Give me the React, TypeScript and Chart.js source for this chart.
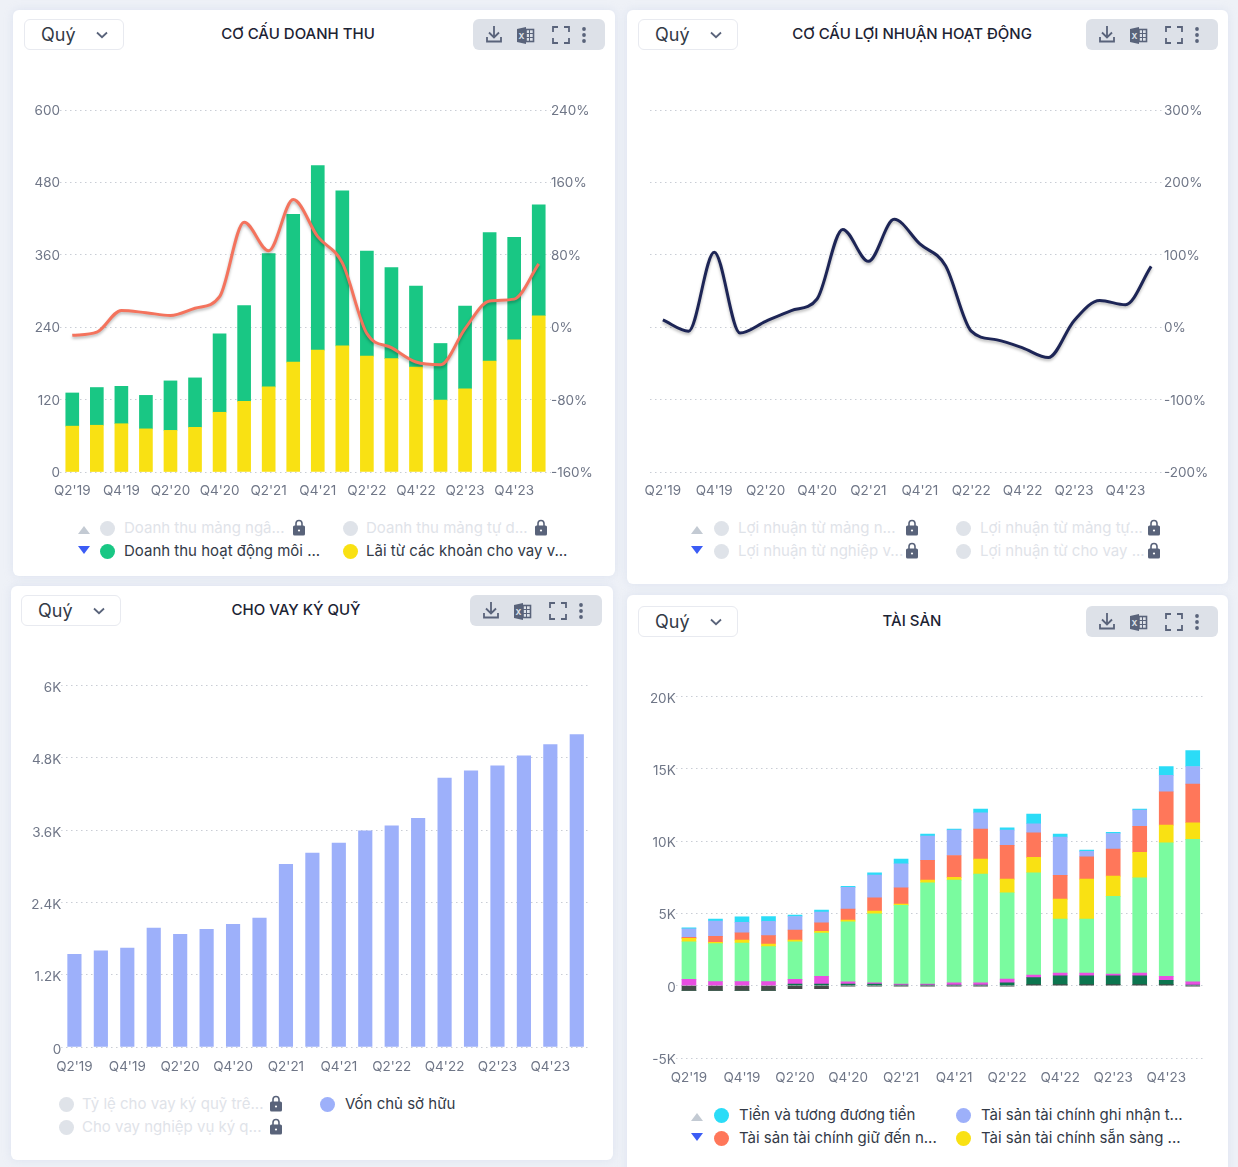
import React, { useEffect, useRef } from "react";
import Chart from "chart.js/auto";

const quarters = ["Q2'19","Q3'19","Q4'19","Q1'20","Q2'20","Q3'20","Q4'20","Q1'21","Q2'21","Q3'21","Q4'21","Q1'22","Q2'22","Q3'22","Q4'22","Q1'23","Q2'23","Q3'23","Q4'23","Q1'24"];

// Revenue structure
const revenueLendingYellow = [76,77.5,80,71.5,69,74,99,117,141,182,202,209,192,188,174,119,138,184,219,259];
const revenueEnvGreen = [55,62.5,62,55.5,82,82,130,159,221,245,306,257,174,151,134,94,137,213,170,184];
const revenueGrowthLine = [-9,-5.5,18.5,16,13,21,33.7,116,84.5,141,100,71,-7,-22.6,-38.5,-41.5,-1.5,29,31,70];

// Operating profit structure
const profitGrowthLine = [10,-5.5,103.5,-8,8,23,39,135,91,149,115,85,-5.5,-17.5,-28.5,-42,9,37,31,84];

// Margin lending
const equityBars = [1537,1598,1642,1974,1869,1952,2035,2140,3030,3218,3384,3589,3672,3794,4463,4584,4667,4833,5021,5187];

// Assets
const assetOther = [-320,-320,-320,-320,-200,-200,-30,-40,-40,-40,-40,-40,-40,70,70,70,70,70,70,-40];
const assetDarkGreen = [0,0,0,0,115,115,115,115,46,46,46,46,207,483,621,621,621,621,299,46];
const assetMagenta = [440,280,280,280,322,530,160,92,70,70,160,160,253,184,184,184,115,184,276,230];
const assetLoans = [2600,2630,2670,2420,2600,2995,4147,4770,5437,7004,7096,7510,5967,7073,3732,3732,5368,6590,9240,9838];
const assetAvailable = [230,90,207,184,115,115,115,184,92,184,184,1037,945,1060,1382,2765,1405,1751,1221,1152];
const assetHeldToMaturity = [70,415,507,576,690,600,760,920,1130,1360,1520,2074,2327,1705,1636,1544,1866,1797,2304,2673];
const assetFvtpl = [600,1060,714,990,945,737,1500,1567,1660,1680,1750,1130,1060,622,2650,369,1083,1130,1130,1221];
const assetCash = [70,140,390,322,92,138,70,160,322,138,70,253,160,668,207,92,70,70,622,1106];

const INK = "#333a47";
const MUTED = "#6f7687";
const OFF = "#dfe3e9";
const ICON = "#59637a";

const lineShadow = {
  id: "lineShadow",
  beforeDatasetDraw(chart: any, args: any) {
    if (chart.data.datasets[args.index].type === "line" || chart.config.type === "line") {
      const c = chart.ctx;
      c.save();
      c.shadowColor = "rgba(0,0,0,0.28)";
      c.shadowBlur = 3;
      c.shadowOffsetY = 2;
    }
  },
  afterDatasetDraw(chart: any, args: any) {
    if (chart.data.datasets[args.index].type === "line" || chart.config.type === "line") chart.ctx.restore();
  },
};

const tickFont = { family: "Inter", size: 13.5 };

function xAxis(height: number, padding: number) {
  return {
    offset: true,
    grid: { display: false },
    border: { display: false },
    afterFit: (s: any) => { s.height = height; },
    ticks: {
      color: MUTED, font: tickFont, padding, maxRotation: 0, minRotation: 0, autoSkip: false,
      callback(this: any, v: any, i: number) { return i % 2 === 0 ? quarters[i] : ""; },
    },
  };
}

function yAxis(o: any) {
  return {
    position: o.position, min: o.min, max: o.max,
    afterFit: (s: any) => { s.width = o.width; },
    grid: { display: o.grid, color: "#c9cdd5", lineWidth: 1, drawTicks: false },
    border: { display: false, dash: [1.5, 3.5] },
    ticks: {
      stepSize: o.step, color: MUTED, font: tickFont, padding: 0, labelOffset: o.labelOffset,
      callback: o.format,
      showLabelBackdrop: o.position === "left",
      backdropColor: "#ffffff",
      backdropPadding: { top: 0, bottom: 0, left: 0, right: 4 },
    },
  };
}

const pct = (v: any) => `${v}%`;
const kilo = (v: any) => (v === 0 ? "0" : `${v / 1000}K`);

function baseOptions(scales: any, padding: any) {
  return {
    responsive: false, animation: false, maintainAspectRatio: false,
    layout: { padding },
    plugins: { legend: { display: false }, tooltip: { enabled: false } },
    scales,
  };
}

function bar(data: number[], color: string, thickness: number, extra: any = {}) {
  return { type: "bar", data, backgroundColor: color, barThickness: thickness, borderWidth: 0, ...extra };
}

const charts: any = {
  revenue: {
    box: { x: 14, y: 70, w: 600, h: 440 },
    config: {
      data: {
        labels: quarters,
        datasets: [
          { type: "line", data: revenueGrowthLine, yAxisID: "y1", borderColor: "#f4735d", borderWidth: 3, pointRadius: 0, cubicInterpolationMode: "monotone", order: 0 },
          bar(revenueLendingYellow, "#f9e113", 13, { yAxisID: "y", stack: "a", order: 1 }),
          bar(revenueEnvGreen, "#19c784", 13, { yAxisID: "y", stack: "a", order: 1 }),
        ],
      },
      options: baseOptions({
        x: { ...xAxis(38, 3), stacked: true },
        y: { ...yAxis({ position: "left", min: 0, max: 600, step: 120, width: 46, grid: true, labelOffset: 1 }), stacked: true },
        y1: yAxis({ position: "right", min: -160, max: 240, step: 80, width: 63, grid: false, format: pct, labelOffset: 1 }),
      }, { top: 40 }),
      plugins: [lineShadow],
    },
  },
  profit: {
    box: { x: 628, y: 70, w: 600, h: 440 },
    config: {
      type: "line",
      data: {
        labels: quarters,
        datasets: [{ data: profitGrowthLine, borderColor: "#1d2556", borderWidth: 3, pointRadius: 0, cubicInterpolationMode: "monotone" }],
      },
      options: baseOptions({
        x: xAxis(38, 3),
        y: yAxis({ position: "right", min: -200, max: 300, step: 100, width: 64, grid: true, format: pct, labelOffset: 1 }),
      }, { top: 40, left: 22 }),
      plugins: [lineShadow],
    },
  },
  margin: {
    box: { x: 12, y: 650, w: 600, h: 435 },
    config: {
      type: "bar",
      data: { labels: quarters, datasets: [bar(equityBars, "#9db0fa", 13.5)] },
      options: baseOptions({
        x: xAxis(38, 4),
        y: yAxis({ position: "left", min: 0, max: 6000, step: 1200, width: 49.2, grid: true, format: kilo, labelOffset: 2.5 }),
      }, { top: 35.5, right: 22 }),
    },
  },
  assets: {
    box: { x: 628, y: 660, w: 600, h: 436 },
    config: {
      type: "bar",
      data: {
        labels: quarters,
        datasets: [
          bar(assetOther, "#454c48", 14),
          bar(assetDarkGreen, "#0c754f", 14),
          bar(assetMagenta, "#e94fe1", 14),
          bar(assetLoans, "#7afb9f", 14),
          bar(assetAvailable, "#f9e113", 14),
          bar(assetHeldToMaturity, "#ff775a", 14),
          bar(assetFvtpl, "#9db0fa", 14),
          bar(assetCash, "#2bdcf7", 14),
        ],
      },
      options: baseOptions({
        x: { ...xAxis(38, 4), stacked: true },
        y: { ...yAxis({ position: "left", min: -5000, max: 20000, step: 5000, width: 47.7, grid: true, format: kilo, labelOffset: 2 }), stacked: true },
      }, { top: 36.5, right: 22 }),
    },
  },
};

function ChartCanvas({ name }: { name: string }) {
  const ref = useRef<HTMLCanvasElement | null>(null);
  const { box, config } = charts[name];
  useEffect(() => {
    const chart = new Chart(ref.current as any, config);
    return () => chart.destroy();
  }, []);
  return <canvas ref={ref} width={box.w} height={box.h} style={{ position: "absolute", left: box.x, top: box.y, width: box.w, height: box.h }} />;
}

const abs = (left: number, top: number, extra: any = {}) => ({ position: "absolute" as const, left, top, ...extra });

function Card({ x, y, w, h }: any) {
  return <div style={abs(x, y, { width: w, height: h, background: "#fff", borderRadius: 6, boxShadow: "0 0 8px rgba(190,200,225,0.35)" })} />;
}

function Select({ x, y }: any) {
  return (
    <div style={abs(x, y, { width: 98, height: 29, border: "1px solid #e8eaf0", borderRadius: 6, background: "#fff" })}>
      <span style={abs(16, 2.5, { font: "400 18px Inter", color: INK, lineHeight: "24px" })}>Quý</span>
      <svg width="12" height="8" viewBox="0 0 12 8" style={abs(71, 11)}>
        <path d="M1 1.5 L6 6.2 L11 1.5" fill="none" stroke={ICON} strokeWidth="1.8" />
      </svg>
    </div>
  );
}

function Toolbar({ x, y }: any) {
  return (
    <div style={abs(x, y, { width: 132, height: 31, background: "#dde1e8", borderRadius: 6 })}>
      <svg width="132" height="31" viewBox="0 0 132 31" style={abs(0, 0)}>
        <g fill="none" stroke={ICON} strokeWidth="1.8">
          <path d="M21 7 V18 M16 13.5 L21 18.5 L26 13.5" />
          <path d="M14 18 V22.5 H28 V18" />
          <path d="M80 13 V8 H85 M91 8 H96 V13 M96 19 V24 H91 M85 24 H80 V19" />
        </g>
        <path d="M44 10 L53 8 V25 L44 23 Z" fill={ICON} />
        <rect x="53" y="10.5" width="7.5" height="12" fill="none" stroke={ICON} strokeWidth="1.6" />
        <path d="M53 14.5 H60 M53 18.5 H60 M56.5 10.5 V22.5" stroke={ICON} strokeWidth="1" />
        <text x="48.5" y="20" fontSize="8" fontWeight="700" textAnchor="middle" fill="#dde1e8" fontFamily="Inter">X</text>
        <circle cx="111" cy="10" r="1.9" fill={ICON} />
        <circle cx="111" cy="16" r="1.9" fill={ICON} />
        <circle cx="111" cy="22" r="1.9" fill={ICON} />
      </svg>
    </div>
  );
}

function Title({ cx, y, text }: any) {
  return (
    <div style={abs(cx - 150, y, { width: 300, textAlign: "center", font: "500 15px Inter", lineHeight: "20px", color: "#1c2333" })}>{text}</div>
  );
}

function Lock({ x, y }: any) {
  return (
    <svg width="14" height="17" viewBox="0 0 14 17" style={abs(x - 7, y - 9)}>
      <path d="M4 7 V4.5 A3 3 0 0 1 10 4.5 V7" fill="none" stroke={ICON} strokeWidth="1.6" />
      <rect x="1" y="6.5" width="12" height="10" rx="1.6" fill={ICON} />
      <circle cx="7" cy="11.5" r="1.1" fill="#fff" />
    </svg>
  );
}

function LegendItem({ dotX, textX, y, color, text, lockX, off }: any) {
  return (
    <>
      <div style={abs(dotX - 7.5, y - 7.5, { width: 15, height: 15, borderRadius: "50%", background: color })} />
      <span style={abs(textX, y - 11, { font: "400 15px Inter", lineHeight: "22px", whiteSpace: "nowrap", color: off ? OFF : INK })}>{text}</span>
      {lockX ? <Lock x={lockX} y={y} /> : null}
    </>
  );
}

function Pager({ x, y1, y2 }: any) {
  return (
    <>
      <svg width="14" height="8" viewBox="0 0 14 8" style={abs(x - 7, y1 - 4)}><path d="M7 0 L13 8 H1 Z" fill="#c3cad3" /></svg>
      <svg width="14" height="8" viewBox="0 0 14 8" style={abs(x - 7, y2 - 3)}><path d="M1 0 H13 L7 8 Z" fill="#3b5cf5" /></svg>
    </>
  );
}

const GREY = OFF;

export default function App() {
  return (
    <div style={abs(0, 0, { width: 1238, height: 1167, overflow: "hidden", background: "#eef1f7" })}>
      <Card x={13} y={10} w={602} h={566} />
      <Card x={627} y={10} w={601} h={574} />
      <Card x={11} y={586} w={602} h={574} />
      <Card x={627} y={595} w={601} h={590} />

      <Select x={24} y={19} /><Title cx={298} y={24} text="CƠ CẤU DOANH THU" /><Toolbar x={473} y={19} />
      <Select x={638} y={19} /><Title cx={912} y={24} text="CƠ CẤU LỢI NHUẬN HOẠT ĐỘNG" /><Toolbar x={1086} y={19} />
      <Select x={21} y={595} /><Title cx={296} y={600} text="CHO VAY KÝ QUỸ" /><Toolbar x={470} y={595} />
      <Select x={638} y={606} /><Title cx={912} y={611} text="TÀI SẢN" /><Toolbar x={1086} y={606} />

      <ChartCanvas name="revenue" />
      <ChartCanvas name="profit" />
      <ChartCanvas name="margin" />
      <ChartCanvas name="assets" />

      <Pager x={84} y1={530} y2={549} />
      <LegendItem dotX={107} textX={124} y={528} color={GREY} off text="Doanh thu mảng ngâ..." lockX={299} />
      <LegendItem dotX={350} textX={366} y={528} color={GREY} off text="Doanh thu mảng tự d..." lockX={541} />
      <LegendItem dotX={107} textX={124} y={551} color="#19c784" text="Doanh thu hoạt động môi ..." />
      <LegendItem dotX={350} textX={366} y={551} color="#f9e113" text="Lãi từ các khoản cho vay v..." />

      <Pager x={697} y1={530} y2={549} />
      <LegendItem dotX={721} textX={738} y={528} color={GREY} off text="Lợi nhuận từ mảng n..." lockX={912} />
      <LegendItem dotX={963} textX={980} y={528} color={GREY} off text="Lợi nhuận từ mảng tự..." lockX={1154} />
      <LegendItem dotX={721} textX={738} y={551} color={GREY} off text="Lợi nhuận từ nghiệp v..." lockX={912} />
      <LegendItem dotX={963} textX={980} y={551} color={GREY} off text="Lợi nhuận từ cho vay ..." lockX={1154} />

      <LegendItem dotX={66} textX={82} y={1104} color={GREY} off text="Tỷ lệ cho vay ký quỹ trê..." lockX={276} />
      <LegendItem dotX={66} textX={82} y={1127} color={GREY} off text="Cho vay nghiệp vụ ký q..." lockX={276} />
      <LegendItem dotX={327} textX={345} y={1104} color="#9db0fa" text="Vốn chủ sở hữu" />

      <Pager x={697} y1={1117} y2={1136} />
      <LegendItem dotX={721} textX={739} y={1115} color="#2bdcf7" text="Tiền và tương đương tiền" />
      <LegendItem dotX={963} textX={981} y={1115} color="#9db0fa" text="Tài sản tài chính ghi nhận t..." />
      <LegendItem dotX={721} textX={739} y={1138} color="#ff775a" text="Tài sản tài chính giữ đến n..." />
      <LegendItem dotX={963} textX={981} y={1138} color="#f9e113" text="Tài sản tài chính sẵn sàng ..." />
    </div>
  );
}
